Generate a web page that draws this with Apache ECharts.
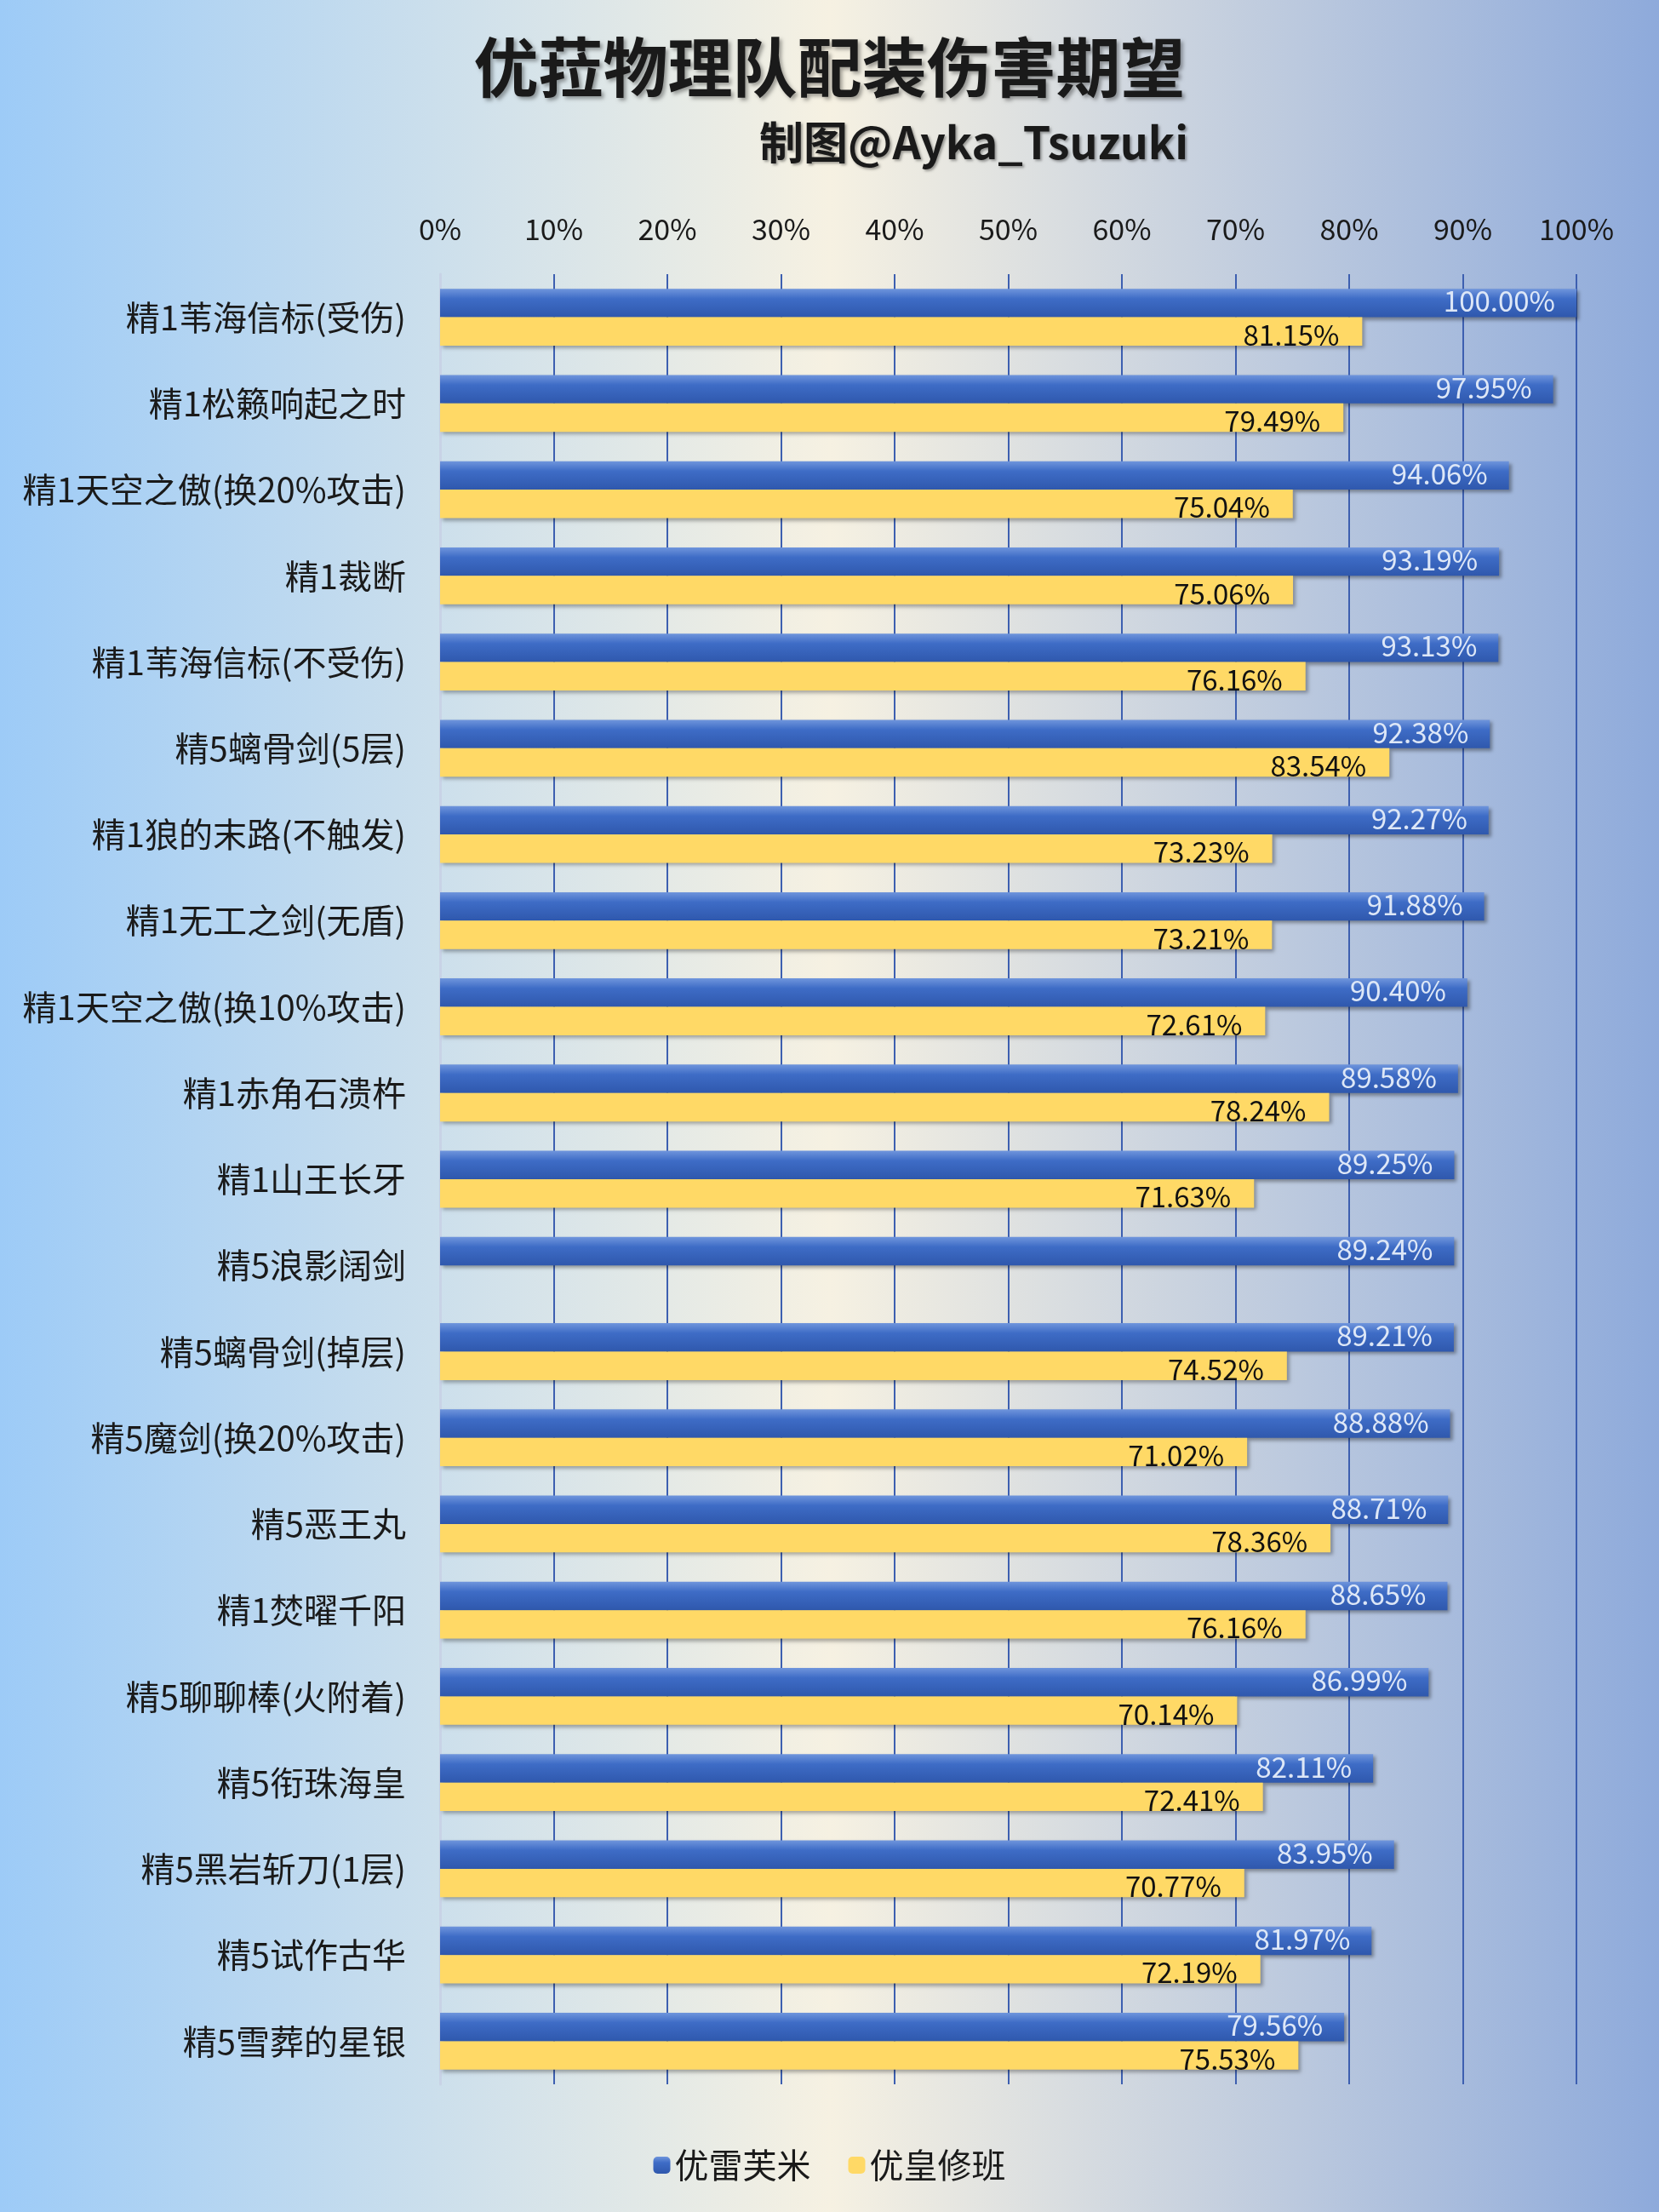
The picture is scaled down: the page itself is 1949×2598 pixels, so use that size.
<!DOCTYPE html>
<html>
<head>
<meta charset="utf-8">
<title>优菈物理队配装伤害期望</title>
<script src="https://cdn.jsdelivr.net/npm/echarts@6/dist/echarts.min.js"></script>
<style>html,body{margin:0;padding:0;}#main{width:1949px;height:2598px;}</style>
</head>
<body>
<div id="main"></div>
<script>
// 武器名称
var weapons = ['精1苇海信标(受伤)','精1松籁响起之时','精1天空之傲(换20%攻击)','精1裁断','精1苇海信标(不受伤)',
  '精5螭骨剑(5层)','精1狼的末路(不触发)','精1无工之剑(无盾)','精1天空之傲(换10%攻击)','精1赤角石溃杵',
  '精1山王长牙','精5浪影阔剑','精5螭骨剑(掉层)','精5魔剑(换20%攻击)','精5恶王丸','精1焚曜千阳',
  '精5聊聊棒(火附着)','精5衔珠海皇','精5黑岩斩刀(1层)','精5试作古华','精5雪葬的星银'];
// 优雷芙米
var eulaRaiden = [100.00,97.95,94.06,93.19,93.13,92.38,92.27,91.88,90.40,89.58,89.25,89.24,89.21,88.88,88.71,88.65,86.99,82.11,83.95,81.97,79.56];
// 优皇修班
var eulaFischl = [81.15,79.49,75.04,75.06,76.16,83.54,73.23,73.21,72.61,78.24,71.63,null,74.52,71.02,78.36,76.16,70.14,72.41,70.77,72.19,75.53];

var chart = echarts.init(document.getElementById('main'));
var font = '"Noto Sans CJK SC", sans-serif';
chart.setOption({
  backgroundColor: {type:'linear',x:0,y:0,x2:1,y2:0,colorStops:[
    {offset:0,color:'#9dcbf7'},{offset:0.5,color:'#f6f1e2'},{offset:1,color:'#8eaadb'}]},
  textStyle: {fontFamily: font},
  title: [{
    text: '优菈物理队配装伤害期望', left: 'center', top: 36,
    textStyle: {fontSize: 76, fontWeight: 'bold', color: '#1a1a1a', fontFamily: font,
      textShadowColor: 'rgba(0,0,0,0.35)', textShadowBlur: 4, textShadowOffsetX: 3, textShadowOffsetY: 3}
  }, {
    text: '制图@Ayka_Tsuzuki', right: 548, top: 136,
    textStyle: {fontSize: 52, fontWeight: 'bold', color: '#1a1a1a', fontFamily: font,
      textShadowColor: 'rgba(0,0,0,0.35)', textShadowBlur: 3, textShadowOffsetX: 2, textShadowOffsetY: 2}
  }],
  legend: {
    bottom: 30, left: 'center', itemWidth: 20, itemHeight: 20, itemGap: 44,
    textStyle: {fontSize: 40, color: '#1a1a1a'},
    data: ['优雷芙米','优皇修班']
  },
  grid: {left: 517, right: 97, top: 322, bottom: 150},
  xAxis: {
    type: 'value', position: 'top', min: 0, max: 100, interval: 10,
    axisLabel: {fontSize: 34, color: '#1a1a1a', margin: 36, formatter: function (v) { return v + '%'; }},
    splitLine: {lineStyle: {color: '#3d5fb0', width: 2}},
    axisLine: {show: false}, axisTick: {show: false}
  },
  yAxis: {
    type: 'category', inverse: true, data: weapons,
    axisLabel: {fontSize: 40, color: '#1a1a1a', margin: 40},
    axisLine: {lineStyle: {color: '#c8d3e6', width: 3}}, axisTick: {show: false}
  },
  series: [{
    name: '优雷芙米', type: 'bar', data: eulaRaiden, barGap: '0%', barCategoryGap: '34%',
    itemStyle: {color: {type:'linear',x:0,y:0,x2:0,y2:1,colorStops:[
      {offset:0,color:'#6f95dc'},{offset:0.35,color:'#3e6cc6'},{offset:1,color:'#2f58ad'}]},
      shadowColor: 'rgba(0,0,0,0.35)', shadowBlur: 4, shadowOffsetX: 3, shadowOffsetY: 3},
    label: {show: true, position: 'insideRight', fontSize: 33, color: '#dde7f7', offset: [-20, -2],
      formatter: function (p) { return p.value.toFixed(2) + '%'; }}
  }, {
    name: '优皇修班', type: 'bar', data: eulaFischl,
    itemStyle: {color: '#ffd966', shadowColor: 'rgba(0,0,0,0.3)', shadowBlur: 4, shadowOffsetX: 3, shadowOffsetY: 3},
    label: {show: true, position: 'insideRight', fontSize: 33, color: '#111', offset: [-22, 4],
      formatter: function (p) { return p.value == null ? '' : p.value.toFixed(2) + '%'; }}
  }]
});
</script>
</body>
</html>
